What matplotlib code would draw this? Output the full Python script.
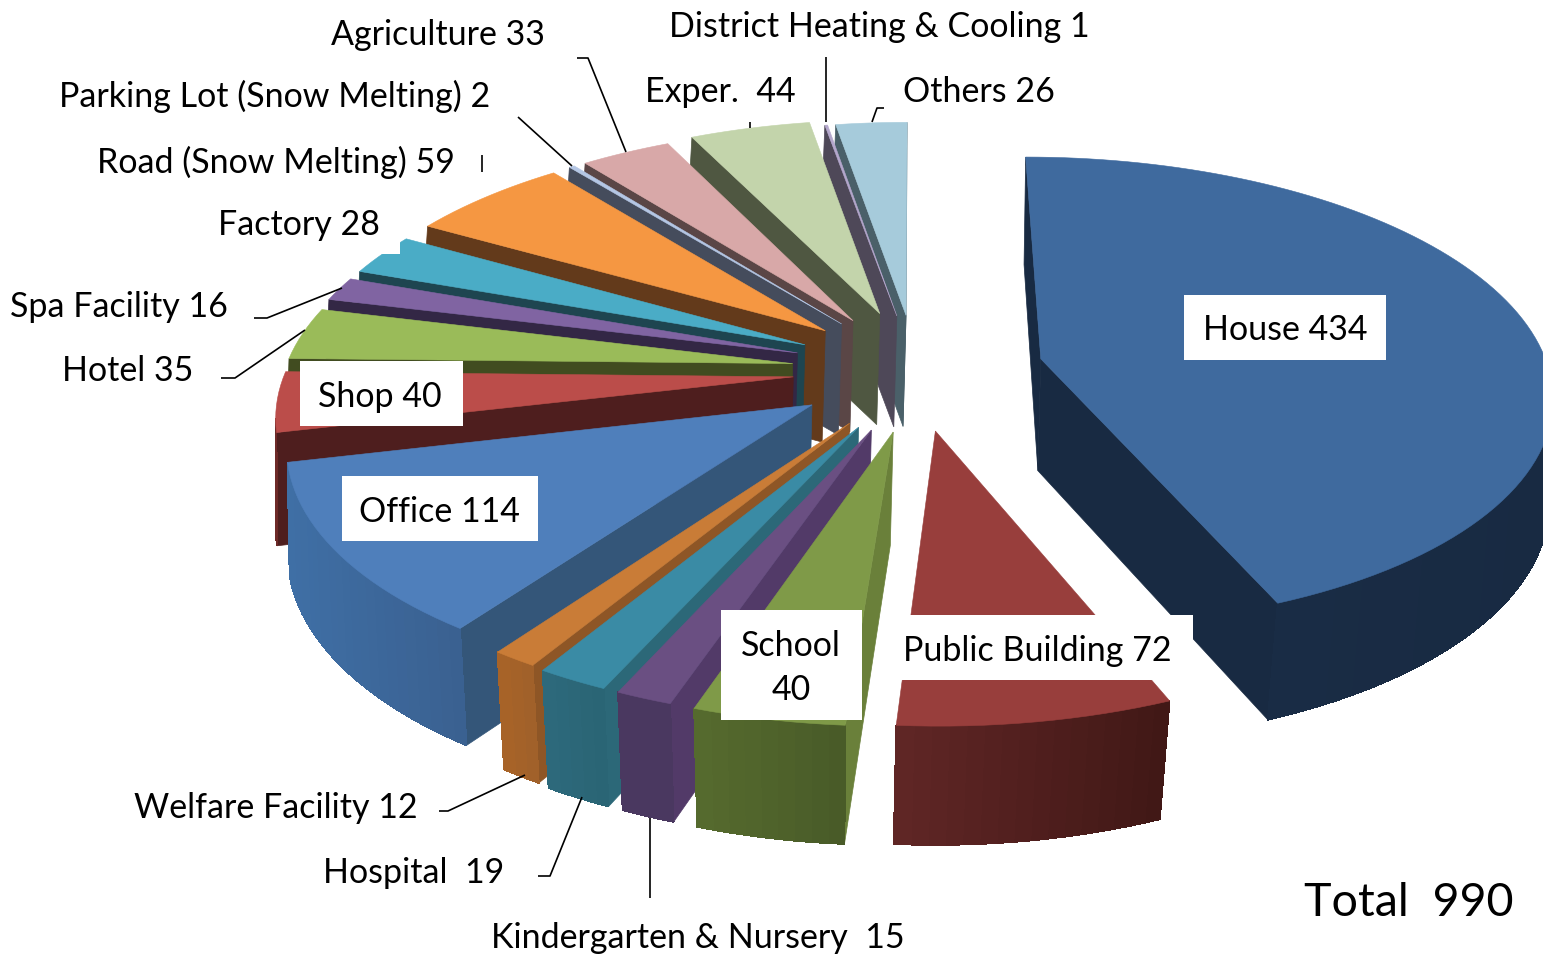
import numpy as np
import matplotlib
matplotlib.use("Agg")
import matplotlib.pyplot as plt
from matplotlib.patches import Polygon, Rectangle
from matplotlib.colors import to_rgb

categories = ["House", "Public Building", "School", "Kindergarten & Nursery", "Hospital",
              "Welfare Facility", "Office", "Shop", "Hotel", "Spa Facility", "Factory",
              "Road (Snow Melting)", "Parking Lot (Snow Melting)", "Agriculture", "Exper.",
              "District Heating & Cooling", "Others"]
values = [434, 72, 40, 15, 19, 12, 114, 40, 35, 16, 28, 59, 2, 33, 44, 1, 26]
explode = [0.25, 0.28, 0.27, 0.25, 0.25, 0.25, 0.24, 0.24, 0.24, 0.24, 0.24, 0.23, 0.23, 0.23, 0.22, 0.22, 0.22]
nudge_x = [5, 0, 9, 7, 7, 9, 3, 3, 1, 1, 2, 0, 0, 1, 1, 3, 3]
nudge_y = [5, -1, 3, 9, 9, 8, 8, 6, 6, 4, 3, 0, 0, 0, -4, 0, 0]

top_colors = ["#3F6A9E", "#983E3C", "#7F9A48", "#6A4F82", "#3A8BA5", "#C97C37", "#4F7FBB", "#BB4D4A",
              "#9ABB59", "#8064A2", "#4AACC6", "#F59742", "#B4C6E4", "#D8A8A8", "#C3D4AB", "#B4A7CC", "#A6CBDB"]
cut_colors = ["#182A42", "#5A2422", "#6A803A", "#523A68", "#2C6878", "#8E5626", "#345679", "#4E1E1E",
              "#414C20", "#332745", "#1E4550", "#633A1B", "#454C5C", "#5A4646", "#4F5741", "#4E4858", "#4A6069"]
rim_left = ["#1A2E48", "#602625", "#566B2E", "#4A3860", "#2D6A7C", "#A86428", "#3F6FA5", "#6E2A28",
            "#5A7030", "#4B3A62", "#2C6676", "#8E5424", "#5C6A80", "#7A5E5E", "#6C7A5A", "#6A6478", "#5E7682"]
rim_right = ["#182A42", "#401816", "#485A28", "#4A3860", "#2A6474", "#A0602A", "#3A6090", "#4E1E1E",
             "#414C20", "#332745", "#1E4550", "#633A1B", "#454C5C", "#5A4646", "#4F5741", "#4E4858", "#4A6069"]

label_boxes = [("House 434", 1184, 295, 202, 65, 1285, 330),
               ("Public Building 72", 893, 615, 300, 65, 1037, 651),
               ("School\n40", 721, 610, 141, 110, 791, 668),
               ("Office 114", 342, 476, 196, 65, 439, 512),
               ("Shop 40", 300, 361, 163, 65, 380, 397),
               ("Factory 28", 199, 189, 201, 65, 299, 225),
               ("Others 26", 884, 56, 190, 65, 979, 92),
               ("Exper.  44", 626, 57, 188, 65, 720, 92)]
plain_labels = [("Agriculture 33", 438, 35), ("District Heating & Cooling 1", 879, 27),
                ("Parking Lot (Snow Melting) 2", 275, 96), ("Road (Snow Melting) 59", 276, 162),
                ("Spa Facility 16", 119, 307), ("Hotel 35", 128, 371), ("Welfare Facility 12", 276, 808),
                ("Hospital  19", 414, 873), ("Kindergarten & Nursery  15", 698, 938)]
leaders = [[(577, 58), (588, 58), (626, 152)], [(518, 117), (572, 166)], [(254, 318), (267, 318), (342, 288)],
           [(221, 378), (235, 378), (305, 330)], [(750, 122), (750, 128)], [(826, 57), (826, 122)],
           [(872, 122), (877, 108), (885, 108)], [(439, 811), (448, 811), (525, 775)],
           [(538, 876), (550, 876), (582, 797)], [(650, 818), (650, 898)], [(482, 155), (482, 172)]]

CX, CY, RX, RY, K, DEPTH = 912, 365, 508, 233, 0.14, 112

plt.rcParams['font.family'] = ['Lato', 'DejaVu Sans']
fig = plt.figure(figsize=(15.43, 9.55), dpi=100, facecolor="white")
ax = fig.add_axes([0, 0, 1, 1])
ax.set_xlim(0, 1543)
ax.set_ylim(955, 0)
ax.axis("off")


def project(u, v, low=False):
    v = np.asarray(v)
    w = 1 + K * v
    x = RX * np.asarray(u) / w
    y = CY - RY * v / w
    if low:
        return CX - 3 + (1 + 0.022 * np.minimum(v, 0) + 0.012 * np.maximum(v, 0)) * x, y + DEPTH / w ** 0.3
    return CX + x, y


def mix(a, b, t):
    return tuple((1 - t) * np.array(to_rgb(a)) + t * np.array(to_rgb(b)))


def side(p0, q0, p1, q1, inside, color, z, solid=False):
    """Extruded face between two points, culled when it faces away."""
    (x0, y0), (x1, y1) = p0, p1
    dx, dy = x1 - x0, y1 - y0
    s_in = dx * (inside[1] - y0) - dy * (inside[0] - x0)
    s_down = dx * 100
    if s_in * s_down < 0:
        ax.add_patch(Polygon([p0, p1, q1, q0], closed=True, fc=color, ec=color, lw=0.5, zorder=z))
        if solid:
            ax.add_patch(Polygon([p0, p1, q1, q0], closed=True, fc=color, ec=color, lw=0.5,
                                 antialiased=False, zorder=z + 0.001))


fractions = np.array(values, dtype=float) / sum(values)
edges = np.concatenate([[0], np.cumsum(fractions)]) * 2 * np.pi
mids = (edges[:-1] + edges[1:]) / 2
order = np.argsort(-np.cos(mids))

z = 1.0
for i in order:
    a0, a1 = edges[i], edges[i + 1]
    du, dv = explode[i] * np.sin(mids[i]), explode[i] * np.cos(mids[i])
    th = np.linspace(a0, a1, max(3, int(np.degrees(a1 - a0) * 0.6) + 2))
    u = np.sin(th) + du
    v = np.cos(th) + dv
    xt, yt = project(u, v)
    xb, yb = project(u, v, low=True)
    xt, xb = xt + nudge_x[i], xb + nudge_x[i]
    yt, yb = yt + nudge_y[i], yb + nudge_y[i]
    tip_t = np.array(project(du, dv)) + (nudge_x[i], nudge_y[i])
    tip_b = np.array(project(du, dv, low=True)) + (nudge_x[i], nudge_y[i])
    inside = (np.mean(np.r_[xt, tip_t[0]]), np.mean(np.r_[yt, tip_t[1]]))
    side(tip_t, tip_b, (xt[0], yt[0]), (xb[0], yb[0]), inside, cut_colors[i], z)
    side(tip_t, tip_b, (xt[-1], yt[-1]), (xb[-1], yb[-1]), inside, cut_colors[i], z)
    z += 0.01
    n = len(th) - 1
    for j in range(n):
        mx = (xt[j] + xt[j + 1]) / 2
        t = np.clip((mx - xt.min()) / max(xt.max() - xt.min(), 1), 0, 1)
        side((xt[j], yt[j]), (xb[j], yb[j]), (xt[j + 1], yt[j + 1]), (xb[j + 1], yb[j + 1]),
             inside, mix(rim_left[i], rim_right[i], t), z, solid=True)
        z += 0.002
    z += 0.01
    ax.add_patch(Polygon(np.c_[np.r_[tip_t[0], xt], np.r_[tip_t[1], yt]], closed=True,
                         fc=top_colors[i], ec=top_colors[i], lw=0.4, zorder=z))
    z += 0.01

for pts in leaders:
    xs, ys = zip(*pts)
    ax.plot(xs, ys, color="black", lw=1.2, zorder=40, solid_capstyle="butt")

FS = 24.5
for txt, x, y, w, h, tx, ty in label_boxes:
    ax.add_patch(Rectangle((x, y), w, h, fc="white", ec="none", zorder=50))
    ax.text(tx, ty, txt, ha="center", va="center", fontsize=FS, color="black", zorder=60, linespacing=1.47)
for txt, tx, ty in plain_labels:
    ax.text(tx, ty, txt, ha="center", va="center", fontsize=FS, color="black", zorder=60)
ax.text(1409, 903, "Total  990", ha="center", va="center", fontsize=33.6, color="black", zorder=60)

fig.savefig("out.png", dpi=100, facecolor="white")
